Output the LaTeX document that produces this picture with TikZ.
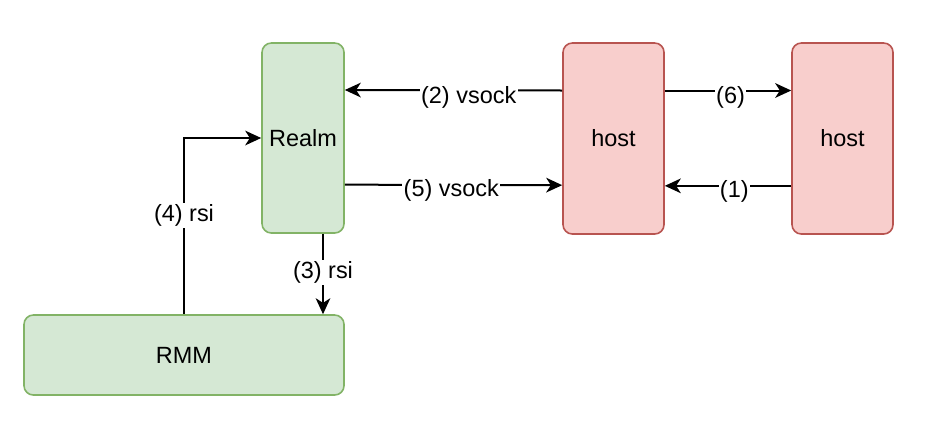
\documentclass[tikz,border=0pt]{standalone}
\usepackage{fontspec}
\setmainfont{Liberation Sans}
\usetikzlibrary{arrows.meta,positioning}
\definecolor{realmFill}{HTML}{D5E8D4}
\definecolor{realmLine}{HTML}{82B366}
\definecolor{hostFill}{HTML}{F8CECC}
\definecolor{hostLine}{HTML}{B85450}

\begin{document}
\begin{tikzpicture}[
      x=0.75pt, y=-0.75pt,
      every node/.style={font=\fontsize{17.6pt}{20pt}\selectfont},
      realmbox/.style={draw=realmLine, fill=realmFill, rounded corners=7pt, line width=1.2pt, inner sep=0pt},
      hostbox/.style={draw=hostLine, fill=hostFill, rounded corners=7pt, line width=1.2pt, inner sep=0pt},
      lbl/.style={fill=white, inner sep=1pt},
      arr/.style={-{Stealth[length=12pt, width=11pt, inset=3.5pt]}, line width=1.5pt, color=black}
  ]
      \useasboundingbox (0,0) rectangle (941,429);

      % BOXES
      \node[realmbox, minimum width=61.5pt, minimum height=142.5pt] (realm) at (303,138) {Realm};
      \node[hostbox, minimum width=75.75pt, minimum height=143.25pt] (hostA) at (613.5,138.5) {host};
      \node[hostbox, minimum width=75.75pt, minimum height=143.25pt] (hostB) at (842.5,138.5) {host};
      \node[realmbox, minimum width=240pt, minimum height=60pt] (rmm) at (184,355) {RMM};

      % VSOCK
      \draw[arr] ([yshift=36pt]hostA.west) -- node[lbl, pos=0.43, yshift=-5pt]{(2) vsock} ([yshift=36pt]realm.east);
      \draw[arr] ([yshift=-35pt]realm.east) -- node[lbl, pos=0.49, yshift=-4pt]{(5) vsock} ([yshift=-35pt]hostA.west);

      % HOST TO HOST
      \draw[arr] ([yshift=36pt]hostA.east) -- node[lbl, pos=0.52, yshift=-5pt]{(6)} ([yshift=36pt]hostB.east -| hostB.west);
      \draw[arr] ([yshift=-35.5pt]hostB.west) -- node[lbl, pos=0.45, yshift=-4pt]{(1)} ([yshift=-35.5pt]hostA.east);

      % RSI
      \draw[arr, line width=1pt] ([xshift=15pt]realm.south) -- node[lbl, pos=0.48]{(3) rsi} ([xshift=15pt]realm.south |- rmm.north);
      \draw[arr] (rmm.north) |- node[lbl, pos=0.28]{(4) rsi} (realm.west);
  \end{tikzpicture}
\end{document}
